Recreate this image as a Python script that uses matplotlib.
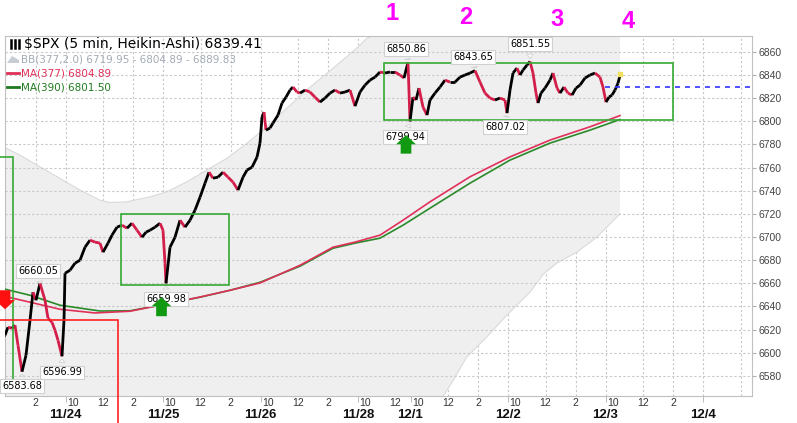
import matplotlib
matplotlib.use('Agg')
import matplotlib.pyplot as plt
import numpy as np
from matplotlib.collections import LineCollection
from matplotlib.patches import Rectangle

# x = 5-minute bar number counted from the 11/24 open, y = Heikin-Ashi close
bar = [-52.4, -48.4, -46, -42.8, -40.4, -38, -34.8, -31.6, -28.4, -26, -23.6, -20.4, -16.4, -14,
       -10.8, -8.4, -6, -2.8, -1.2, -0.4, 3.6, 7.6, 11.6, 15.6, 19.6, 23.6, 27.6, 30, 34, 37.2,
       41.2, 45.2, 49.2, 53.2, 57.2, 61.2, 64.4, 67.6, 71.6, 75.6, 78, 79.6, 80.4, 83.6, 87.6,
       91.6, 95.6, 99.6, 103.6, 107.6, 111.6, 114.8, 118, 122, 126, 130, 134, 138, 142, 145.2,
       149.2, 153.2, 155.6, 157.2, 158.8, 160.4, 163.6, 166, 170, 173.2, 176.4, 179.6, 182,
       185.2, 187.6, 191.6, 195.6, 199.6, 203.6, 207.6, 211.6, 215.6, 219.6, 223.6, 227.6,
       231.6, 235.6, 239.6, 243.6, 247.6, 251.6, 255.6, 259.6, 263.6, 267.6, 270.8, 274, 275.6,
       278, 280.4, 282.8, 286, 289.2, 291.6, 295.6, 299.6, 303.6, 307.6, 311.6, 315.6, 319.6,
       323.6, 327.6, 331.6, 335.6, 339.6, 343.6, 347.6, 351.6, 353.2, 355.6, 358, 361.2, 363.6,
       366, 369.2, 371.6, 374, 376.4, 378, 380.4, 383.6, 387.6, 390, 393.2, 395.6, 398.8, 402,
       405.2, 408.4, 411.6, 415.6, 419.6, 423.6, 427.6, 430, 432.4, 434.8, 437.2, 439.6, 442,
       443.6]
close = [6612, 6615.1, 6622.1, 6621.2, 6623.8, 6606.5, 6583.7, 6597.9, 6628.1, 6652.3, 6645.4,
         6660.0, 6645.4, 6629.8, 6626.4, 6619.5, 6610.8, 6597.0, 6628.1, 6668.7, 6671.3, 6677.4,
         6680.0, 6691.2, 6697.3, 6695.6, 6694.7, 6686.9, 6694.7, 6701.6, 6708.5, 6710.2, 6707.6,
         6711.9, 6705.9, 6699.8, 6704.2, 6705.9, 6708.5, 6711.9, 6705.9, 6677.4, 6660.0, 6691.2,
         6699.8, 6714.5, 6708.5, 6714.5, 6723.2, 6734.4, 6746.5, 6756.0, 6750.8, 6751.7, 6756.0,
         6751.7, 6747.4, 6740.5, 6751.7, 6757.8, 6760.3, 6769.0, 6781.1, 6803.6, 6807.9, 6792.3,
         6794.1, 6798.4, 6805.3, 6815.7, 6820.8, 6826.9, 6829.5, 6825.2, 6824.3, 6826.9, 6825.2,
         6820.8, 6816.5, 6820.0, 6824.3, 6826.9, 6824.3, 6825.2, 6826.9, 6813.0, 6825.2, 6831.2,
         6835.5, 6838.1, 6842.5, 6841.6, 6842.5, 6842.5, 6839.9, 6837.3, 6850.9, 6799.9, 6820.8,
         6818.3, 6828.6, 6812.2, 6805.3, 6818.3, 6824.3, 6829.5, 6835.5, 6833.8, 6833.8, 6838.1,
         6839.9, 6841.6, 6843.7, 6833.8, 6824.3, 6820.0, 6818.3, 6820.0, 6818.3, 6807.0, 6826.9,
         6841.6, 6845.9, 6839.9, 6844.2, 6848.5, 6851.6, 6841.6, 6824.3, 6815.7, 6824.3, 6828.6,
         6835.5, 6841.6, 6828.6, 6824.3, 6829.5, 6824.3, 6822.6, 6828.6, 6831.2, 6837.3, 6839.9,
         6841.6, 6838.1, 6829.5, 6816.5, 6820.8, 6822.6, 6826.9, 6832.9, 6839.4]

ma377_bar = [-52.4, -28.4, -4.4, 23.6, 51.6, 75.6, 107.6, 131.6, 155.6, 187.6, 214, 231.6, 251.6,
             270, 291.6, 323.6, 355.6, 387.6, 419.6, 443.6]
ma377 = [6649.7, 6643.7, 6637.6, 6634.4, 6635.9, 6641.1, 6648.2, 6654.0, 6660.3, 6675.6, 6691.2,
         6695.6, 6701.6, 6714.5, 6730.4, 6752.0, 6769.2, 6783.7, 6795.2, 6804.89]
ma390_bar = [-52.4, -28.4, -4.4, 27.6, 51.6, 75.6, 107.6, 131.6, 155.6, 187.6, 214, 231.6, 251.6,
             270, 291.6, 323.6, 355.6, 387.6, 419.6, 443.6]
ma390 = [6656.0, 6649.7, 6641.1, 6636.1, 6636.3, 6641.1, 6648.0, 6654.0, 6660.9, 6674.8, 6690.3,
         6694.7, 6699.0, 6710.2, 6724.9, 6746.5, 6766.4, 6781.1, 6792.3, 6801.50]

bb_up_bar = [-52.4, -36.4, -20.4, -4.4, 11.6, 27.6, 35.6, 49, 67.6, 81, 97, 113, 129, 145, 161,
             177, 193, 209, 225, 235.6, 241, 260, 300, 350, 443.6]
bb_up = [6779.4, 6770.7, 6760.6, 6750.6, 6740.5, 6731.8, 6729.8, 6730.4, 6734.7, 6739.0, 6747.6,
         6757.8, 6767.9, 6780.8, 6795.2, 6811.1, 6826.9, 6841.3, 6855.7, 6865.8, 6871.6, 6880.0,
         6887.0, 6890.0, 6889.83]
bb_lo_bar = [-52.4, 100, 250, 295, 302.2, 310.2, 321, 337, 353, 361, 371.6, 382.2, 393, 409, 425,
             443.6]
bb_lo = [6520, 6535, 6525, 6550, 6562.7, 6576.3, 6596.4, 6613.7, 6632.4, 6641.1, 6652.3, 6667.9,
         6677.4, 6686.9, 6699.8, 6719.95]

day_start = [-78, 0, 78, 156, 234, 276, 354, 432, 510]
day_label = ['', '11/24', '11/25', '11/26', '11/28', '12/1', '12/2', '12/3', '12/4']
hour_pos = [-24, 6, 30, 54, 84, 108, 132, 162, 186, 210, 240, 264, 282, 306, 330, 360, 384, 408,
            438, 462, 486]
hour_label = ['2', '10', '12', '2', '10', '12', '2', '10', '12', '2', '10', '12', '10', '12', '2',
              '10', '12', '2', '10', '12', '2']
grid_x = [-24, 0, 30, 54, 78, 108, 132, 156, 186, 210, 234, 252, 268, 276, 306, 330, 354, 384,
          408, 432, 462, 486, 510, 540]

# extremes marked on the chart: (bar, price, label bar, label price)
extremes = [(274, 6850.86, 272.4, 6862.3), (327.6, 6843.65, 326, 6855.4),
            (371.6, 6851.55, 371.6, 6866.7), (275.6, 6799.94, 271.6, 6786.3),
            (353.2, 6807.02, 351.6, 6795.0), (-20.4, 6660.05, -22, 6670.5),
            (80.4, 6659.98, 80.4, 6646.3), (-2.8, 6596.99, -2.8, 6583.0),
            (-34.8, 6583.68, -34.8, 6571.0)]

W, H = 797, 423
fig = plt.figure(figsize=(W / 100, H / 100), dpi=100)
ax = fig.add_axes([4.5 / W, 1 - 396 / H, (752 - 4.5) / W, 360 / H])

# grid
ax.set_yticks(np.arange(6580, 6861, 20))
ax.grid(axis='y', color='#c8c8c8', linestyle=(0, (2, 2)), linewidth=0.8)
for gx in grid_x:
    ax.axvline(gx, color='#c8c8c8', linestyle=(0, (2, 2)), linewidth=0.8, zorder=0)

# Bollinger band
ax.fill(np.r_[bb_up_bar, bb_lo_bar[::-1]], np.r_[bb_up, bb_lo[::-1]], color='#efefef',
        zorder=1, lw=0)
ax.plot(bb_up_bar, bb_up, color='#dadada', lw=0.8, zorder=1)
ax.plot(bb_lo_bar, bb_lo, color='#dadada', lw=0.8, zorder=1)

# moving averages
ax.plot(ma390_bar, ma390, color='#2a8a2a', lw=1.2, zorder=3)
ax.plot(ma377_bar, ma377, color='#e0305a', lw=1.2, zorder=3)

# heikin-ashi price path
pts = np.column_stack([bar, close])
segs = np.stack([pts[:-1], pts[1:]], axis=1)
cols = np.where(np.diff(close) >= 0, 'black', '#d41e4a')
ax.add_collection(LineCollection(segs, colors=cols, linewidths=2.0, zorder=4))
ax.plot(bar[-1], close[-1] + 1.5, marker='s', ms=2.5, color='#f0e060', zorder=5)

# user drawn boxes and line
ax.add_patch(Rectangle((-80, 6567.6), 38.2, 201.4, fill=False, ec='#33aa33', lw=1.2,
                       clip_on=False, zorder=5))
ax.add_patch(Rectangle((-80, 6520), 122.2, 108.7, fill=False, ec='#ff2020', lw=1.2,
                       clip_on=False, zorder=5))
ax.add_patch(Rectangle((44.2, 6658.4), 86.4, 61.3, fill=False, ec='#33aa33', lw=1.2, zorder=5))
ax.add_patch(Rectangle((254.8, 6801), 231.4, 49, fill=False, ec='#33aa33', lw=1.2, zorder=5))
ax.plot([431.6, 549.2], [6829.8, 6829.8], color='#3333ff', lw=1.2, linestyle=(0, (3, 3)), zorder=5)

# labelled extremes
for px, py, tx, ty in extremes:
    ax.annotate(f'{py:.2f}', xy=(px, py), xytext=(tx, ty), ha='center', va='center',
                fontsize=7, color='black', zorder=6,
                bbox=dict(boxstyle='square,pad=0.2', fc='white', ec='#d0d0d0', lw=0.8),
                arrowprops=dict(arrowstyle='wedge,tail_width=0.6', fc='white', ec='#d0d0d0',
                                lw=0.6))

# signal arrows
arrow = 'simple,head_width=1.3,head_length=0.6,tail_width=0.7'
for (ax_x, tip, tail, c) in [(272.4, 6788, 6772, '#119911'), (76.8, 6648, 6631.6, '#119911'),
                            (-48.4, 6637.6, 6654, '#ff1010')]:
    ax.annotate('', xy=(ax_x, tip), xytext=(ax_x, tail), zorder=7, annotation_clip=False,
                arrowprops=dict(arrowstyle=arrow, color=c, mutation_scale=11, lw=0,
                                shrinkA=0, shrinkB=0))

# axes styling
for s in ax.spines.values():
    s.set_color('#c0c0c0')
ax.yaxis.tick_right()
ax.tick_params(axis='y', length=3, color='#b0b0b0', labelsize=7.5, labelcolor='#444444', pad=2)
for t in ax.get_yticklabels():
    t.set_fontfamily('Liberation Sans')
ax.set_xticks(hour_pos)
ax.set_xticklabels(hour_label, fontsize=7.5, color='#333333', fontfamily='Liberation Sans')
ax.tick_params(axis='x', which='major', length=0, pad=1.5)
ax.set_xticks(day_start, minor=True)
ax.set_xticklabels(day_label, minor=True, fontsize=9.5, fontweight='bold', color='#111111',
                   fontfamily='Liberation Sans')
ax.tick_params(axis='x', which='minor', length=4, color='#b0b0b0', pad=5.5)
# limits last, setting ticks widens the view
ax.set_xlim(-48.8, 549.2)
ax.set_ylim(6562.7, 6873.6)

# overlay in pixel units for legend and handwritten marks
ov = fig.add_axes([0, 0, 1, 1], zorder=10)
ov.set_xlim(0, W)
ov.set_ylim(H, 0)
ov.axis('off')
for xx in (11, 15, 19):
    ov.plot([xx, xx], [40, 48], color='black', lw=1.8)
ov.text(24, 44, '$SPX (5 min, Heikin-Ashi) 6839.41', fontsize=10, va='center', color='black')
ov.fill([7, 12, 19, 19, 7], [63, 56, 60, 63, 63], color='#c8cdd3', lw=0)
ov.text(21, 59, 'BB(377,2.0) 6719.95 - 6804.89 - 6889.83', fontsize=7.5, va='center',
        color='#a3abb5')
ov.plot([7, 19], [73, 73], color='#e0305a', lw=2)
ov.text(21, 73, 'MA(377) 6804.89', fontsize=7.5, va='center', color='#e0305a')
ov.plot([7, 19], [87, 87], color='#1f7a1f', lw=2)
ov.text(21, 87, 'MA(390) 6801.50', fontsize=7.5, va='center', color='#1f7a1f')

for lab, xx, yy in [('1', 392, 14), ('2', 466, 17), ('3', 557, 20), ('4', 628, 22)]:
    ov.text(xx, yy, lab, fontsize=17, fontweight='bold', color='#ff00ff', ha='center',
            va='center', fontfamily='Liberation Sans')

fig.savefig('out.png', dpi=100)
